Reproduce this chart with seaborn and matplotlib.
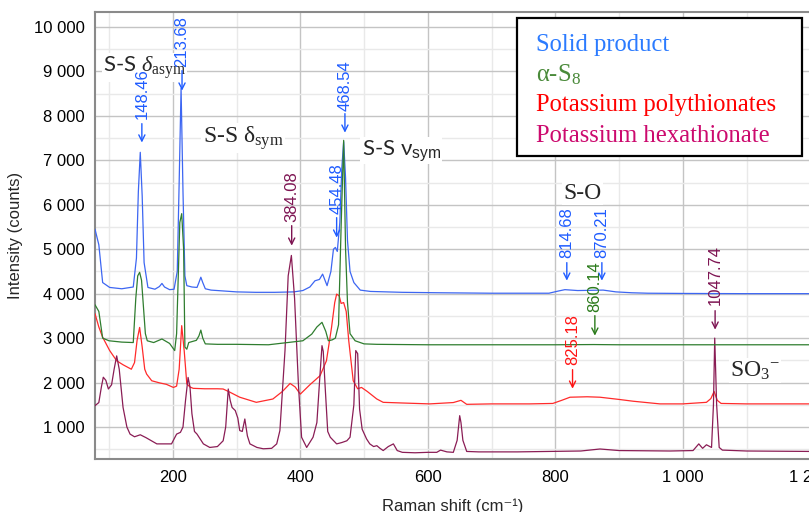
import numpy as np
import pandas as pd
import matplotlib
matplotlib.use("Agg")
import matplotlib.pyplot as plt
import seaborn as sns
from matplotlib.ticker import MultipleLocator, FuncFormatter
from matplotlib.patches import Rectangle

# ---------------- data ----------------
solid_x = [78, 84, 90, 101, 120, 138, 143, 146, 149, 152, 155, 161, 172, 179, 183, 187, 195, 202, 207, 210,
           213, 216, 219, 222, 230, 238, 241, 244, 247, 251, 260, 280, 300, 330, 360, 390, 404, 415, 423, 430,
           435, 442, 448, 452, 455, 458, 462, 465, 468, 471, 474, 478, 484, 494, 510, 560, 620, 700, 790, 805,
           815, 835, 855, 875, 895, 920, 945, 1000, 1100, 1200]
solid_y = [5450, 5100, 4250, 4140, 4110, 4150, 4800, 6300, 7180, 6200, 4700, 4140, 4100, 4160, 4230, 4150, 4090, 4100, 4500, 6500,
           8620, 6300, 4400, 4180, 4150, 4140, 4250, 4370, 4250, 4110, 4080, 4060, 4040, 4030, 4030, 4040, 4070, 4150, 4290, 4320,
           4440, 4180, 4500, 5000, 5040, 4950, 5600, 6800, 7420, 6600, 5200, 4500, 4250, 4080, 4050, 4030, 4020, 4010, 4010, 4060,
           4090, 4070, 4075, 4080, 4040, 4020, 4010, 4005, 4000, 4000]

s8_x = [78, 84, 90, 100, 120, 138, 142, 145, 148, 151, 154, 157, 160, 170, 183, 195, 203, 206, 209, 211,
        214, 217, 219, 222, 225, 237, 241, 244, 247, 251, 270, 300, 350, 404, 418, 426, 434, 440, 444, 450,
        455, 460, 464, 468, 471, 474, 478, 486, 500, 520, 600, 700, 800, 860, 900, 1000, 1100, 1200]
s8_y = [3750, 3600, 3000, 2940, 2910, 2900, 3900, 4400, 4480, 4300, 3700, 3100, 2940, 2900, 2980, 2880, 2720, 3100, 4600, 5600,
        5800, 5000, 2800, 2750, 2900, 2950, 3050, 3180, 3000, 2870, 2860, 2860, 2850, 2940, 3090, 3250, 3355, 3150, 2940, 2960,
        3000, 3300, 5500, 7450, 5000, 3800, 3100, 2940, 2870, 2860, 2850, 2850, 2850, 2855, 2850, 2850, 2850, 2850]

poly_x = [78, 84, 90, 101, 112, 122, 135, 140, 144, 148, 152, 156, 159, 167, 180, 190, 201, 206, 210, 214,
          218, 222, 227, 232, 250, 270, 279, 290, 305, 331, 357, 372, 384, 392, 400, 415, 431, 441, 449, 454,
          457, 461, 464, 468, 472, 476, 483, 490, 496, 505, 520, 530, 560, 603, 640, 652, 661, 700, 760, 796,
          810, 823, 850, 870, 900, 922, 964, 1000, 1037, 1044, 1049, 1054, 1060, 1100, 1150, 1200]
poly_y = [3550, 3250, 3020, 2720, 2490, 2400, 2300, 2450, 2950, 3240, 2800, 2300, 2190, 2040, 1990, 1960, 1890, 1920, 2300, 3280,
          2700, 1970, 1900, 1870, 1860, 1860, 1855, 1780, 1670, 1555, 1630, 1800, 1980, 1900, 1740, 1950, 2155, 2490, 3240, 3800,
          3990, 3950, 3780, 3800, 3600, 2940, 2040, 1860, 1890, 1800, 1630, 1555, 1540, 1520, 1550, 1600, 1510, 1520, 1520, 1530,
          1600, 1670, 1680, 1670, 1620, 1580, 1520, 1520, 1555, 1640, 1800, 1600, 1530, 1520, 1520, 1520]

hexa_x = [78, 84, 88, 91, 95, 99, 104, 108, 112, 116, 122, 128, 133, 140, 149, 158, 175, 198, 206, 212,
          216, 220, 224, 227, 230, 234, 238, 248, 258, 270, 279, 283, 287, 290, 293, 298, 302, 305, 309, 313,
          317, 321, 332, 342, 355, 363, 368, 376, 381, 386, 391, 397, 402, 410, 420, 426, 431, 434, 436, 439,
          443, 447, 457, 465, 473, 478, 484, 487, 490, 493, 497, 504, 509, 515, 520, 525, 530, 538, 546, 552,
          560, 580, 600, 614, 620, 630, 640, 646, 650, 652, 655, 661, 680, 740, 840, 870, 900, 980, 1016, 1025,
          1031, 1037, 1045, 1048, 1050, 1053, 1057, 1062, 1100, 1150, 1200]
hexa_y = [1480, 1550, 1900, 2120, 2050, 1855, 1950, 2300, 2600, 2300, 1440, 1000, 840, 780, 825, 760, 620, 620, 840, 880,
          1000, 1600, 2115, 1900, 1300, 900, 840, 620, 540, 560, 690, 1000, 1855, 1600, 1440, 1370, 1200, 920, 900, 1180,
          800, 620, 540, 510, 520, 620, 920, 2720, 4400, 4860, 3900, 1970, 770, 540, 770, 1100, 2200, 2830, 2700, 1900,
          900, 770, 620, 650, 690, 770, 1500, 2720, 2650, 1400, 950, 730, 620, 560, 580, 520, 470, 560, 620, 470,
          430, 420, 430, 430, 480, 440, 430, 700, 1255, 1100, 700, 450, 440, 440, 460, 505, 470, 460, 470, 620,
          520, 600, 540, 1500, 3000, 1500, 540, 480, 460, 455, 450]

series_names = ["Solid product", "Potassium polythionates", "Potassium hexathionate", "α-S8"]
line_colors = {"Solid product": "#3d66f2", "α-S8": "#2f7d2f",
               "Potassium polythionates": "#ff2b2b", "Potassium hexathionate": "#8a1d55"}

# peak labels: (position, arrow tail, arrow tip, text bottom, text, colour key)
peak_pos = [151.5, 214.5, 386.5, 457, 470, 818, 873, 862, 827, 1050.6]
peak_tail = [7825, 9018, 5530, 5710, 8050, 4698, 4698, 3505, 2290, 3617]
peak_tip = [7400, 8568, 5080, 5260, 7622, 4293, 4293, 3055, 1862, 3190]
peak_text_y = [7930, 9090, 5610, 5800, 8120, 4800, 4800, 3580, 2390, 3740]
peak_text = ["148.46", "213.68", "384.08", "454.48", "468.54", "814.68", "870.21", "860.14", "825.18", "1047.74"]
peak_col = ["b", "b", "p", "b", "b", "b", "b", "g", "r", "p"]

# ---------------- style ----------------
sns.set_style("white")
plt.rcParams["font.family"] = ["Liberation Sans", "DejaVu Sans"]
plt.rcParams["mathtext.fontset"] = "custom"
plt.rcParams["mathtext.rm"] = "Liberation Serif"
plt.rcParams["mathtext.it"] = "Liberation Serif:italic"
plt.rcParams["mathtext.sf"] = "Liberation Sans"

frames = []
for name, xs, ys in [("Solid product", solid_x, solid_y), ("Potassium polythionates", poly_x, poly_y),
                     ("Potassium hexathionate", hexa_x, hexa_y), ("α-S8", s8_x, s8_y)]:
    frames.append(pd.DataFrame({"shift": xs, "intensity": ys, "sample": name}))
df = pd.concat(frames, ignore_index=True)

fig = plt.figure(figsize=(8.09, 5.12), dpi=100)
W, H = 809, 512
ax = fig.add_axes([95 / W, (H - 459) / H, (811 - 95) / W, (459 - 12) / H])

sns.lineplot(data=df, x="shift", y="intensity", hue="sample", hue_order=series_names,
             palette=line_colors, estimator=None, sort=False, legend=False, linewidth=0.9, ax=ax, zorder=3)

ax.set_xlim(78, 1201)
ax.set_ylim(280, 10337)
ax.xaxis.set_major_locator(MultipleLocator(200))
ax.xaxis.set_minor_locator(MultipleLocator(100))
ax.yaxis.set_major_locator(MultipleLocator(1000))
ax.yaxis.set_minor_locator(MultipleLocator(500))
fmt = FuncFormatter(lambda v, p: f"{int(round(v)):,}".replace(",", " "))
ax.xaxis.set_major_formatter(fmt)
ax.yaxis.set_major_formatter(fmt)

ax.grid(which="major", color="#c4c4c4", linewidth=1.0)
ax.grid(which="minor", color="#e9e9e9", linewidth=1.0)
ax.set_axisbelow(True)
ax.tick_params(which="major", axis="both", direction="out", length=3.5, width=1.2, color="#2a8585",
               labelsize=12, pad=4, labelcolor="black")
ax.tick_params(which="minor", axis="both", direction="out", length=2.5, width=1.0, color="#2a8585")
ax.tick_params(axis="x", which="major", length=0, pad=8)
for side in ["left", "top", "bottom"]:
    ax.spines[side].set_visible(True)
    ax.spines[side].set_color("#8a8a8a")
    ax.spines[side].set_linewidth(1.5)
ax.spines["right"].set_visible(False)

ax.set_xlabel("Raman shift (cm⁻¹)", fontsize=12, labelpad=10)
ax.set_ylabel("Intensity (counts)", fontsize=12, labelpad=8)

# peak arrows + labels
label_colors = {"b": "#1f5cff", "g": "#2a7a1a", "r": "#ff1515", "p": "#7d1452"}
for xp, tl, tp, ty, t, c in zip(peak_pos, peak_tail, peak_tip, peak_text_y, peak_text, peak_col):
    col = label_colors[c]
    ax.annotate("", xy=(xp, tp), xytext=(xp, tl),
                arrowprops=dict(arrowstyle="->", color=col, lw=1.0, shrinkA=0, shrinkB=0, mutation_scale=11),
                zorder=6)
    ax.text(xp, ty, t, rotation=90, ha="center", va="bottom", color=col, fontsize=12, zorder=6)

# band assignments
box = dict(facecolor="white", edgecolor="none", pad=1.0)
ax.text(90.5, 8995, r"S-S $\delta_{\mathrm{asym}}$", fontsize=16, family=["Lato", "DejaVu Sans"],
        va="baseline", ha="left", zorder=5, bbox=box)
ax.text(247, 7400, r"S-S δ$_{\mathrm{sym}}$", fontsize=17, family=["Liberation Serif", "DejaVu Serif"],
        va="baseline", ha="left", zorder=5, bbox=box)
ax.text(496, 7128, r"S-S ν$_{\mathsf{sym}}$", fontsize=16, family=["Lato", "DejaVu Sans"],
        va="baseline", ha="left", zorder=5, bbox=box)
ax.text(812, 6137, "S-O", fontsize=17, family=["Liberation Serif", "DejaVu Serif"],
        va="baseline", ha="left", zorder=5, bbox=box)
ax.text(1074, 2132, r"SO$_3$$^{\mathrm{-}}$", fontsize=17, family=["Liberation Serif", "DejaVu Serif"],
        va="baseline", ha="left", zorder=5, bbox=box)

# legend box with coloured entries
fig.patches.append(Rectangle((517 / W, 1 - 156 / H), (802 - 517) / W, (156 - 18) / H,
                             transform=fig.transFigure, facecolor="white", edgecolor="black",
                             linewidth=1.6, zorder=10))
legend_labels = ["Solid product", "α-S$_8$", "Potassium polythionates", "Potassium hexathionate"]
legend_colors = ["#2b7bff", "#4a8a3a", "#ff0000", "#cc0a6e"]
legend_base = [50.5, 81.5, 111.5, 141.5]
for lab, col, by in zip(legend_labels, legend_colors, legend_base):
    fig.text(536 / W, 1 - by / H, lab, color=col, fontsize=17.7, va="baseline", ha="left",
             family=["Liberation Serif", "DejaVu Serif"], zorder=11)

fig.savefig("out.png", dpi=100)
